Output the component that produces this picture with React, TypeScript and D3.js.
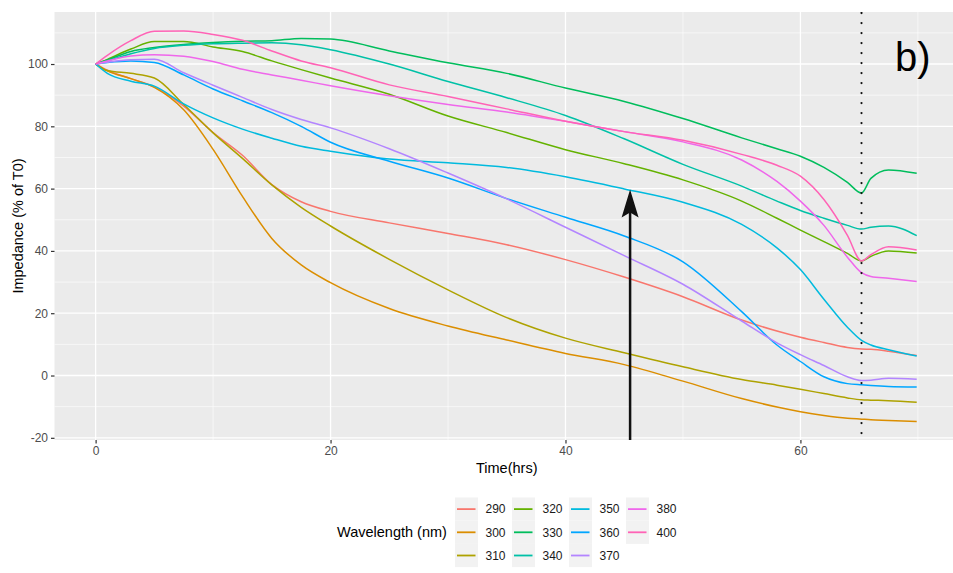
import { useEffect, useRef } from 'react';
import * as d3 from 'd3';

// time points (hrs) shared by all series
const times = [0, 1, 3, 5, 7.5, 10, 12.5, 15, 17.5, 20, 25, 30, 35, 40, 45, 50, 55, 58, 60, 62, 64, 65.2, 66, 67.5, 69.9];

const wavelengths = ['290', '300', '310', '320', '330', '340', '350', '360', '370', '380', '400'];

const w290 = [100, 98, 95.3, 92.6, 86.5, 78, 70.7, 61.3, 55.8, 52.7, 49, 45.6, 42, 37.2, 31.6, 25.3, 17.8, 14.3, 12.3, 10.6, 9, 8.5, 8.4, 7.8, 6.4];
const w300 = [100, 97.8, 95.3, 92.5, 85.3, 72.6, 57.5, 44, 35.5, 29.8, 21.5, 15.9, 11.4, 7.1, 3.5, -1.8, -7.4, -10.1, -11.6, -12.8, -13.7, -14, -14.2, -14.4, -14.8];
const w310 = [100, 97.9, 97, 95.5, 87, 77.9, 69.7, 61.2, 54, 48, 37.3, 27.5, 18.6, 12, 7.3, 2.8, -1.3, -3.1, -4.4, -5.8, -7.2, -7.8, -7.9, -8.1, -8.6];
const w320 = [100, 101.5, 104.8, 107.2, 107.2, 105.5, 104, 101, 98.2, 95.5, 90.3, 83.3, 78, 72.5, 68, 62.8, 56, 50.5, 46.7, 43, 39.2, 36.8, 38.3, 40, 39.3];
const w330 = [100, 101.3, 104, 105.3, 106.3, 106.9, 107.3, 107.5, 108.2, 108, 104.2, 100.4, 97, 92.3, 88, 82.5, 76.3, 72.8, 70.4, 66.8, 62, 58.6, 63.3, 66, 64.9];
const w340 = [100, 101, 103.3, 105, 106, 106.5, 106.7, 106.8, 106.2, 104.6, 100, 94.4, 89.2, 83.5, 76, 67.8, 60.8, 56, 53, 50.5, 48.2, 47, 47.6, 48, 44.9];
const w350 = [100, 97, 94.5, 92.9, 87.2, 82.7, 79.1, 76.2, 73.6, 72, 69.5, 68.3, 66.8, 63.8, 59.9, 55.6, 48.5, 41, 34, 24.5, 15.5, 11.3, 9.8, 8.3, 6.3];
const w360 = [100, 100.5, 101, 100.5, 96.5, 92, 88.2, 84.4, 80, 74.9, 68.8, 63.4, 56.8, 50.8, 44.8, 36.5, 20.5, 9.8, 4.5, -0.4, -2.6, -3, -3.2, -3.5, -3.7];
const w370 = [100, 100.6, 101.4, 101.5, 97.2, 93.2, 89.3, 85.4, 82.2, 79.5, 72.8, 65, 56.7, 47.6, 38.5, 29.3, 17.5, 10.5, 6.7, 3.2, -0.4, -1.6, -1.5, -0.9, -1.2];
const w380 = [100, 101, 102.6, 103, 102.5, 100.8, 98.3, 96.5, 94.8, 93, 89.8, 87, 84.6, 81.6, 78.3, 75, 69.2, 62.3, 56, 48.2, 38, 33, 31.8, 31.2, 30.2];
const w400 = [100, 102.8, 107.5, 110.5, 110.6, 109.5, 107.6, 104.2, 101, 98.8, 93.3, 89.6, 85.6, 81.6, 78.3, 75.5, 71, 67.5, 64, 56.5, 45, 36.8, 38.8, 41.3, 40.3];

const seriesValues = [w290, w300, w310, w320, w330, w340, w350, w360, w370, w380, w400];
const colors = ['#F8766D', '#DB8E00', '#AEA200', '#64B200', '#00BD5C', '#00C1A7', '#00BADE', '#00A6FF', '#B385FF', '#EF67EB', '#FF63B6'];

const xTicks = [0, 20, 40, 60];
const xMinor = [10, 30, 50, 70];
const yTicks = [-20, 0, 20, 40, 60, 80, 100];
const yMinor = [-10, 10, 30, 50, 70, 90, 110];

const eventTime = 65.2;
const arrowTime = 45.5;
const arrowTip = 59.7;

const W = 953, H = 573;
const panel = { left: 54.5, top: 12, right: 959, bottom: 440 };
const font = '"Liberation Sans", Arial, sans-serif';

export default function App() {
  const svgRef = useRef<SVGSVGElement>(null);

  useEffect(() => {
    const svg = d3.select(svgRef.current);
    svg.selectAll('*').remove();

    const x = d3.scaleLinear().domain([-3.5, 73.5]).range([panel.left, panel.right]);
    const y = d3.scaleLinear().domain([-20.7, 116.7]).range([panel.bottom, panel.top]);

    svg.append('rect').attr('width', W).attr('height', H).attr('fill', 'white');

    // panel + grid
    svg.append('rect')
      .attr('x', panel.left).attr('y', panel.top)
      .attr('width', panel.right - panel.left).attr('height', panel.bottom - panel.top)
      .attr('fill', '#EBEBEB');

    const grid = svg.append('g');
    grid.selectAll('.ymin').data(yMinor).enter().append('line')
      .attr('x1', panel.left).attr('x2', panel.right)
      .attr('y1', d => y(d)).attr('y2', d => y(d))
      .attr('stroke', 'white').attr('stroke-width', 0.6);
    grid.selectAll('.xmin').data(xMinor).enter().append('line')
      .attr('y1', panel.top).attr('y2', panel.bottom)
      .attr('x1', d => x(d)).attr('x2', d => x(d))
      .attr('stroke', 'white').attr('stroke-width', 0.6);
    grid.selectAll('.ymaj').data(yTicks).enter().append('line')
      .attr('x1', panel.left).attr('x2', panel.right)
      .attr('y1', d => y(d)).attr('y2', d => y(d))
      .attr('stroke', 'white').attr('stroke-width', 1.3);
    grid.selectAll('.xmaj').data(xTicks).enter().append('line')
      .attr('y1', panel.top).attr('y2', panel.bottom)
      .attr('x1', d => x(d)).attr('x2', d => x(d))
      .attr('stroke', 'white').attr('stroke-width', 1.3);

    svg.append('defs').append('clipPath').attr('id', 'panel-clip')
      .append('rect')
      .attr('x', panel.left).attr('y', panel.top)
      .attr('width', panel.right - panel.left).attr('height', panel.bottom - panel.top);

    // series
    const line = d3.line<number>()
      .x((_, i) => x(times[i]))
      .y(d => y(d))
      .curve(d3.curveMonotoneX);

    const lines = svg.append('g').attr('clip-path', 'url(#panel-clip)');
    seriesValues.forEach((vals, i) => {
      lines.append('path').datum(vals)
        .attr('fill', 'none')
        .attr('stroke', colors[i])
        .attr('stroke-width', 1.5)
        .attr('d', line);
    });

    // dotted event line
    lines.append('line')
      .attr('x1', x(eventTime)).attr('x2', x(eventTime))
      .attr('y1', panel.top + 1).attr('y2', panel.bottom)
      .attr('stroke', '#111').attr('stroke-width', 2.2)
      .attr('stroke-linecap', 'round')
      .attr('stroke-dasharray', '0.1 9.9');

    // arrow
    const ax = x(arrowTime), tipY = y(arrowTip);
    lines.append('line')
      .attr('x1', ax).attr('x2', ax)
      .attr('y1', panel.bottom + 2).attr('y2', tipY + 20)
      .attr('stroke', '#111').attr('stroke-width', 2.5);
    lines.append('path')
      .attr('d', `M${ax},${tipY} L${ax - 8.5},${tipY + 28} L${ax},${tipY + 23} L${ax + 8.5},${tipY + 28} Z`)
      .attr('fill', '#111');

    // axes
    const yAxis = svg.append('g').attr('transform', `translate(${panel.left},0)`)
      .call(d3.axisLeft(y).tickValues(yTicks).tickSize(3.5).tickPadding(3).tickFormat(d => String(d)));
    const xAxis = svg.append('g').attr('transform', `translate(0,${panel.bottom})`)
      .call(d3.axisBottom(x).tickValues(xTicks).tickSize(3.5).tickPadding(3).tickFormat(d => String(d)));
    [yAxis, xAxis].forEach(a => {
      a.select('.domain').remove();
      a.selectAll('.tick line').attr('stroke', '#333').attr('stroke-width', 1.2);
      a.selectAll('text').attr('fill', '#4D4D4D').attr('font-size', '12px').attr('font-family', font);
    });

    svg.append('text')
      .attr('x', (panel.left + panel.right) / 2).attr('y', 473)
      .attr('text-anchor', 'middle').attr('font-size', '14.5px').attr('font-family', font)
      .attr('fill', 'black').text('Time(hrs)');
    svg.append('text')
      .attr('transform', `translate(23,${(panel.top + panel.bottom) / 2}) rotate(-90)`)
      .attr('text-anchor', 'middle').attr('font-size', '14.5px').attr('font-family', font)
      .attr('fill', 'black').text('Impedance (% of T0)');

    svg.append('text')
      .attr('x', 895).attr('y', 71)
      .attr('font-size', '40px').attr('font-family', font)
      .attr('fill', 'black').text('b)');

    // legend
    const leg = svg.append('g');
    leg.append('text')
      .attr('x', 337).attr('y', 537)
      .attr('font-size', '14.5px').attr('font-family', font)
      .attr('fill', 'black').text('Wavelength (nm)');
    const keyX0 = 455, keyStep = 57, rowY0 = 497.5, keyH = 23.2, keyW = 23;
    wavelengths.forEach((wl, i) => {
      const col = Math.floor(i / 3), row = i % 3;
      const kx = keyX0 + col * keyStep, ky = rowY0 + row * keyH;
      leg.append('rect').attr('x', kx).attr('y', ky).attr('width', keyW).attr('height', keyH).attr('fill', '#F2F2F2');
      leg.append('line')
        .attr('x1', kx + 2).attr('x2', kx + 20.5)
        .attr('y1', ky + keyH / 2).attr('y2', ky + keyH / 2)
        .attr('stroke', colors[i]).attr('stroke-width', 1.8);
      leg.append('text')
        .attr('x', kx + 30.5).attr('y', ky + keyH / 2 + 4.3)
        .attr('font-size', '12px').attr('font-family', font)
        .attr('fill', '#1A1A1A').text(wl);
    });
  }, []);

  return (
    <div style={{ position: 'absolute', left: 0, top: 0 }}>
      <svg ref={svgRef} width={W} height={H} />
    </div>
  );
}
